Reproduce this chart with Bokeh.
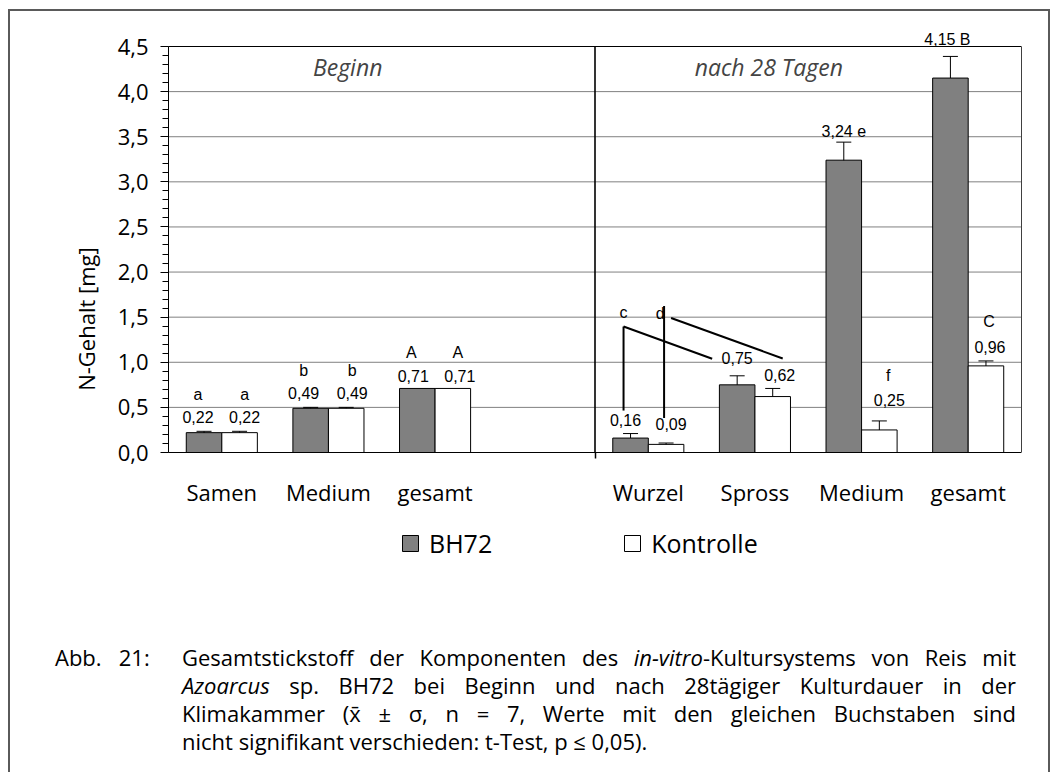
import numpy as np
from bokeh.plotting import figure
from bokeh.models import (ColumnDataSource, FixedTicker, CustomJSTickFormatter, Whisker,
                          TeeHead, LabelSet, Label, Legend, LegendItem, Div, LinearAxis)
from bokeh.layouts import column
from bokeh.embed import file_html
from bokeh.resources import INLINE
from bokeh.core.properties import value

# ---------------- data ----------------
categories = ["Samen", "Medium", "gesamt", "Wurzel", "Spross", "Medium", "gesamt"]
phases = ["Beginn", "nach 28 Tagen"]
phase_of = [0, 0, 0, 1, 1, 1, 1]
bh72 = [0.22, 0.49, 0.71, 0.16, 0.75, 3.24, 4.15]
bh72_sd = [0.015, 0.01, 0.0, 0.05, 0.10, 0.20, 0.24]
kontrolle = [0.22, 0.49, 0.71, 0.09, 0.62, 0.25, 0.96]
kontrolle_sd = [0.015, 0.01, 0.0, 0.015, 0.09, 0.10, 0.055]
bh72_letters = ["a", "b", "A", "c", "", "e", "B"]
kontrolle_letters = ["a", "b", "A", "d", "", "f", "C"]
y_ticks = [0.0, 0.5, 1.0, 1.5, 2.0, 2.5, 3.0, 3.5, 4.0, 4.5]
series_names = ["BH72", "Kontrolle"]

# ---------------- layout / style ----------------
FONT = "Open Sans"
W, H = 1038, 600
ML, MR, MT, MB = 158, 27, 15, 0
FW, FH = W - ML - MR, H - MT - MB
AXIS_PX = 406.0                 # pixel height of the 0..4.5 plot box
TOP_PAD_PX = 20.0               # room above the box for labels
X_MAX = 8.0
Y_TOP = 4.5
PY = Y_TOP / AXIS_PX
Y_MAX = Y_TOP + TOP_PAD_PX * PY
Y_MIN = -(FH - AXIS_PX - TOP_PAD_PX) * PY   # room below the box for categories and legend
PX = X_MAX / FW
BAR_W = 1.0 / 3.0

slots = [i + 0.5 + (1 if phase_of[i] == 1 else 0) for i in range(len(categories))]
divider_x = 4.0
x_bh = [s - BAR_W / 2 for s in slots]
x_ko = [s + BAR_W / 2 for s in slots]

def fmt(v):
    return f"{v:.2f}".replace(".", ",")

val_xoff_bh = [-6, -7, -4, -5, 0, 0, -3]
val_yoff_bh = [14, 14, 12, 14, 18, 11, 17]
val_xoff_ko = [5, 6, 7, 5, 7, 10, 4]
val_yoff_ko = [14, 14, 12, 19, 13, 21, 14]
inline_bh = [False, False, False, False, False, True, True]
let_xoff_bh = [-6, -7, -6, -7, 0, 0, 0]
let_yoff_bh = [37, 37, 36, 121, 0, 0, 0]
let_xoff_ko = [5, 6, 5, -6, 0, 9, 3]
let_yoff_ko = [37, 37, 36, 130, 0, 45, 39]

p = figure(width=W, height=H, x_range=(0, X_MAX), y_range=(Y_MIN, Y_MAX),
           output_backend="svg", toolbar_location=None, x_axis_location=None,
           min_border_left=ML, min_border_right=MR, min_border_top=MT, min_border_bottom=MB,
           background_fill_color="white", border_fill_color="white")
p.margin = 0
p.outline_line_color = None
p.xgrid.visible = False
p.ygrid.visible = False

r_bh = p.vbar(x=x_bh, top=bh72, width=BAR_W, fill_color="#808080", line_color="black", line_width=1)
r_ko = p.vbar(x=x_ko, top=kontrolle, width=BAR_W, fill_color="white", line_color="black", line_width=1)

# gridlines, top border of plot box and phase divider
p.segment(x0=[0] * len(y_ticks[1:]), y0=y_ticks[1:], x1=[X_MAX] * len(y_ticks[1:]), y1=y_ticks[1:],
          line_color="#808080", line_width=1, level="underlay")
p.segment(x0=[0], y0=[Y_TOP], x1=[X_MAX], y1=[Y_TOP], line_color="black", line_width=1.2)
p.segment(x0=[divider_x], y0=[0], x1=[divider_x], y1=[Y_TOP], line_color="black", line_width=1.6)

# error bars
ex, eu, el = [], [], []
for xs, vs, sds in ((x_bh, bh72, bh72_sd), (x_ko, kontrolle, kontrolle_sd)):
    for x, v, s in zip(xs, vs, sds):
        if s > 0:
            ex.append(x); eu.append(v + s); el.append(v - s)
err_src = ColumnDataSource(dict(x=ex, upper=eu, lower=el))
p.add_layout(Whisker(base="x", upper="upper", lower="lower", source=err_src, dimension="height",
                     line_color="black", line_width=1,
                     upper_head=TeeHead(size=15, line_color="black", line_width=1),
                     lower_head=TeeHead(size=15, line_color="black", line_width=1)))

# value labels and letters
lx, ly, lt, lxo, lyo = [], [], [], [], []
for i in range(len(categories)):
    t = fmt(bh72[i]) + (" " + bh72_letters[i] if inline_bh[i] else "")
    lx.append(x_bh[i]); ly.append(bh72[i] + bh72_sd[i]); lt.append(t)
    lxo.append(val_xoff_bh[i]); lyo.append(val_yoff_bh[i])
    lx.append(x_ko[i]); ly.append(kontrolle[i] + kontrolle_sd[i]); lt.append(fmt(kontrolle[i]))
    lxo.append(val_xoff_ko[i]); lyo.append(val_yoff_ko[i])
for i in range(len(categories)):
    if bh72_letters[i] and not inline_bh[i]:
        lx.append(x_bh[i]); ly.append(bh72[i] + bh72_sd[i]); lt.append(bh72_letters[i])
        lxo.append(let_xoff_bh[i]); lyo.append(let_yoff_bh[i])
    if kontrolle_letters[i]:
        lx.append(x_ko[i]); ly.append(kontrolle[i] + kontrolle_sd[i]); lt.append(kontrolle_letters[i])
        lxo.append(let_xoff_ko[i]); lyo.append(let_yoff_ko[i])
lab_src = ColumnDataSource(dict(x=lx, y=ly, text=lt, xo=lxo, yo=lyo))
p.add_layout(LabelSet(x="x", y="y", text="text", x_offset="xo", y_offset="yo", source=lab_src,
                      text_font=value("Liberation Sans"), text_font_size="16px",
                      text_color="black", text_align="center", text_baseline="middle"))

# connector lines (c: Wurzel BH72 - Spross BH72, d: Wurzel Kontrolle - Spross Kontrolle)
iw, isp = 3, 4
c_x = x_bh[iw] + let_xoff_bh[iw] * PX
c_y = bh72[iw] + bh72_sd[iw] + let_yoff_bh[iw] * PY
d_x = x_ko[iw] + let_xoff_ko[iw] * PX
d_y = kontrolle[iw] + kontrolle_sd[iw] + let_yoff_ko[iw] * PY
w_top_bh = bh72[iw] + bh72_sd[iw] + (val_yoff_bh[iw] + 9) * PY
w_top_ko = kontrolle[iw] + kontrolle_sd[iw] + (val_yoff_ko[iw] + 6) * PY
s_bh_x = x_bh[isp] + val_xoff_bh[isp] * PX
s_bh_y = bh72[isp] + bh72_sd[isp] + val_yoff_bh[isp] * PY
s_ko_x = x_ko[isp] + val_xoff_ko[isp] * PX
s_ko_y = kontrolle[isp] + kontrolle_sd[isp] + val_yoff_ko[isp] * PY
seg_x0 = [c_x, c_x, d_x + 4 * PX, d_x + 11 * PX]
seg_y0 = [w_top_bh, c_y - 14 * PY, w_top_ko, d_y - 5 * PY]
seg_x1 = [c_x, s_bh_x - 25 * PX, d_x + 4 * PX, s_ko_x + 3 * PX]
seg_y1 = [c_y - 14 * PY, s_bh_y - 1 * PY, d_y + 7 * PY, s_ko_y + 17 * PY]
p.segment(x0=seg_x0, y0=seg_y0, x1=seg_x1, y1=seg_y1, line_color="black", line_width=2)

# phase titles
p.add_layout(Label(x=1.68, y=4.27, text=phases[0], text_font=FONT, text_font_size="23px",
                   text_font_style="italic", text_align="center", text_baseline="middle"))
p.add_layout(Label(x=5.63, y=4.27, text=phases[1], text_font=FONT, text_font_size="23px",
                   text_font_style="italic", text_align="center", text_baseline="middle"))

# y axis
yax = p.yaxis[0]
yax.bounds = (0, Y_TOP)
yax.ticker = FixedTicker(ticks=y_ticks, minor_ticks=[round(v, 1) for v in np.arange(0, 4.55, 0.1)])
yax.formatter = CustomJSTickFormatter(code="return tick.toFixed(1).replace('.', ',');")
yax.major_tick_out = 8
yax.major_tick_in = 0
yax.minor_tick_out = 6
yax.minor_tick_in = 0
yax.major_label_text_font = FONT
yax.major_label_text_font_size = "22px"
yax.major_label_text_color = "black"
yax.major_label_standoff = 12
yax.axis_label = "N-Gehalt [mg]"
yax.axis_label_text_font = FONT
yax.axis_label_text_font_size = "22px"
yax.axis_label_text_font_style = "normal"
yax.axis_label_text_color = "black"
yax.axis_label_standoff = 14
yax.axis_line_color = "black"

# right border of the plot box
rax = LinearAxis(bounds=(0, Y_TOP), ticker=FixedTicker(ticks=[]), axis_line_color="#404040",
                 major_tick_out=0, major_tick_in=0, minor_tick_out=0, minor_tick_in=0,
                 major_label_text_color=None)
p.add_layout(rax, "right")

# x axis fixed at y = 0
xax = LinearAxis(fixed_location=0, bounds=(0, X_MAX),
                 ticker=FixedTicker(ticks=slots, minor_ticks=[divider_x]))
xax.formatter = CustomJSTickFormatter(args=dict(slots=slots, labels=categories), code="""
for (let i = 0; i < slots.length; i++) { if (Math.abs(slots[i] - tick) < 1e-6) return labels[i]; }
return "";
""")
xax.major_tick_out = 0
xax.major_tick_in = 0
xax.minor_tick_out = 6
xax.minor_tick_in = 0
xax.minor_tick_line_width = 1.5
xax.major_label_text_font = FONT
xax.major_label_text_font_size = "22px"
xax.major_label_text_color = "black"
xax.major_label_standoff = 18
xax.axis_line_color = "black"
p.add_layout(xax, "below")

# legend (inside the extended frame, below the axis)
legend = Legend(items=[LegendItem(label=series_names[0], renderers=[r_bh]),
                       LegendItem(label=series_names[1], renderers=[r_ko])],
                orientation="horizontal", location=(232, 51),
                label_text_font=FONT, label_text_font_size="25px", label_text_color="black",
                glyph_width=20, glyph_height=20, label_standoff=9, spacing=130,
                padding=0, margin=0, border_line_color=None, background_fill_alpha=0)
p.add_layout(legend, "center")

caption_html = """
<div style="font-family:'Open Sans'; font-size:22px; line-height:28px; color:#000; display:flex; padding-top:32px; box-sizing:border-box;">
  <div style="box-sizing:border-box; width:172px; padding-left:45px; flex:none; white-space:nowrap;">Abb.&nbsp;&nbsp;&nbsp;21:</div>
  <div style="box-sizing:border-box; width:834px; flex:none;">
    <div style="text-align:justify; text-align-last:justify;">Gesamtstickstoff der Komponenten des <i>in-vitro</i>-Kultursystems von Reis mit</div>
    <div style="text-align:justify; text-align-last:justify;"><i>Azoarcus</i> sp. BH72 bei Beginn und nach 28tägiger Kulturdauer in der</div>
    <div style="text-align:justify; text-align-last:justify;">Klimakammer (x&#772; &#177; &#963;, n = 7, Werte mit den gleichen Buchstaben sind</div>
    <div style="text-align:left;">nicht signifikant verschieden: t-Test, p &#8804; 0,05).</div>
  </div>
</div>
"""
caption = Div(text=caption_html, width=W, height=161, margin=0)

layout = column(p, caption, margin=(9, 0, 0, 8),
                styles={"border": "2px solid #5a5a5a", "border-bottom": "none"})

open("out.html", "w").write(file_html(layout, INLINE))
